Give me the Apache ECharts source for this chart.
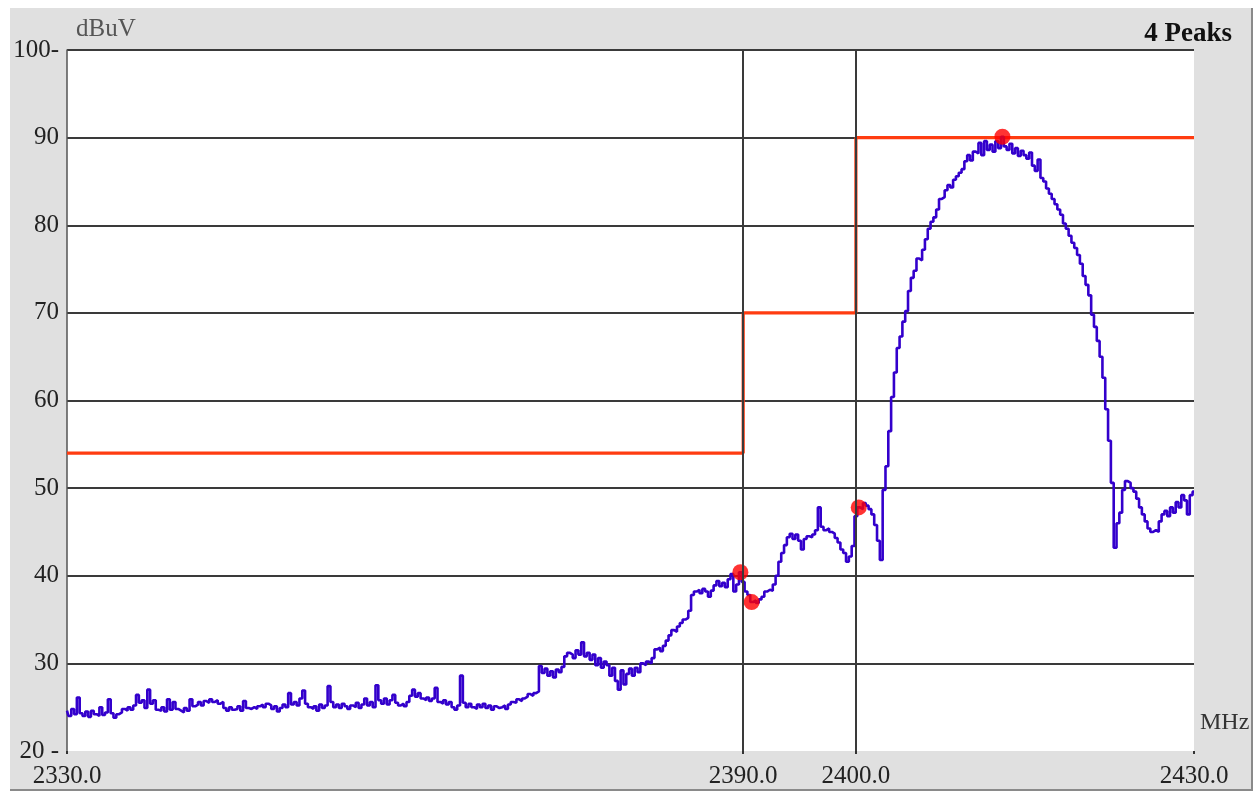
<!DOCTYPE html>
<html>
<head>
<meta charset="utf-8">
<script src="https://cdn.jsdelivr.net/npm/echarts@6/dist/echarts.min.js"></script>
<style>
  html, body { margin: 0; padding: 0; background: #ffffff; }
  #main {
    position: absolute; left: 10px; top: 8px;
    width: 1241px; height: 781px;
    background: #e0e0e0;
    border-right: 2px solid #8a8a8a;
    border-bottom: 2px solid #8a8a8a;
  }
</style>
</head>
<body>
<div id="main"></div>
<script>
// 扫描频率 (MHz)：2330 起，每 0.25 MHz 一个点
var freqStart = 2330;
var freqStep = 0.25;

// 测量电平 (dBuV)
var level = [
  24.6, 24.0, 24.8, 24.2, 26.1, 24.3, 24.0, 24.5, 23.9, 24.6,
  24.2, 24.0, 25.0, 24.1, 24.4, 25.9, 24.3, 23.8, 24.2, 24.4,
  24.8, 24.6, 25.0, 24.7, 25.2, 26.4, 25.5, 25.8, 24.9, 27.0,
  25.4, 25.8, 24.7, 24.6, 25.0, 24.5, 25.9, 24.7, 25.6, 24.8,
  24.6, 24.4, 24.9, 24.6, 25.9, 25.1, 25.3, 25.6, 25.2, 25.7,
  25.5, 25.9, 25.6, 25.8, 25.4, 25.6, 24.9, 24.6, 25.0, 24.7,
  24.8, 25.1, 24.6, 25.7, 24.9, 24.8, 25.0, 24.8, 25.1, 25.3,
  25.0, 25.4, 25.2, 24.8, 25.1, 24.5, 24.9, 25.3, 25.0, 26.6,
  25.3, 25.6, 25.2, 26.0, 26.9, 25.4, 25.0, 24.8, 25.1, 24.6,
  25.3, 24.9, 25.2, 27.4, 25.6, 25.0, 25.3, 24.9, 25.4, 25.1,
  24.8, 25.2, 25.0, 25.5, 24.9, 25.3, 26.0, 25.2, 25.6, 25.0,
  27.5, 25.8, 25.4, 26.0, 25.3, 25.8, 26.4, 25.5, 25.2, 25.4,
  25.1, 25.6, 26.3, 27.0, 26.2, 26.6, 26.0, 25.8, 26.1, 25.7,
  26.0, 27.2, 25.6, 25.4, 25.8, 25.3, 25.6, 25.0, 24.7, 25.2,
  28.6, 25.5, 25.0, 25.4, 25.0, 24.8, 25.3, 25.0, 25.4, 24.9,
  25.2, 24.7, 25.1, 24.9, 25.0, 25.2, 24.8, 25.3, 25.6, 25.5,
  25.9, 25.7, 26.0, 26.2, 26.5, 26.3, 26.6, 26.8, 29.7, 28.9,
  29.4, 28.6, 29.1, 28.4, 29.3, 29.0, 29.6, 30.8, 31.2, 31.0,
  30.6, 31.5, 31.0, 32.4, 30.8, 31.2, 30.4, 31.0, 29.8, 30.6,
  29.5, 30.2, 29.8, 28.6, 29.5, 28.0, 27.0, 29.2, 27.6, 28.8,
  29.4, 28.6, 29.5, 29.0, 30.0, 29.8, 30.2, 30.0, 30.6, 31.6,
  31.8, 31.4, 32.0, 32.6, 33.2, 33.8, 33.6, 34.2, 34.6, 35.0,
  35.2, 36.0, 37.8, 38.2, 38.4, 38.0, 38.5, 38.2, 37.6, 38.3,
  38.9, 39.4, 38.8, 39.2, 38.7, 39.6, 40.2, 38.2, 39.0, 40.4,
  39.3, 38.2, 37.8, 37.0, 37.2, 36.9, 37.3, 37.6, 38.2, 38.4,
  38.3, 39.0, 40.0, 41.6, 42.6, 43.5, 44.4, 44.8, 44.2, 44.7,
  44.0, 43.0, 44.2, 44.5, 44.4, 44.7, 45.2, 47.8, 45.6, 45.2,
  45.4, 45.0, 44.8, 44.3, 43.8, 43.0, 42.6, 41.6, 42.2, 43.4,
  46.8, 47.8, 47.6, 48.3, 48.0, 47.6, 47.0, 45.8, 44.0, 41.8,
  49.8, 52.5, 56.5, 60.4, 63.2, 66.0, 67.3, 69.0, 70.2, 72.5,
  74.0, 74.8, 76.2, 76.0, 77.2, 78.4, 79.6, 80.4, 80.9, 81.8,
  83.0, 83.2, 84.0, 84.6, 84.3, 85.2, 85.6, 86.0, 86.4, 87.3,
  88.0, 87.4, 88.4, 88.2, 89.4, 88.0, 89.6, 88.6, 89.2, 88.4,
  89.6, 88.8, 90.1, 89.0, 88.6, 89.3, 88.2, 88.8, 87.9, 88.5,
  88.0, 87.6, 88.3, 86.8, 86.2, 87.5, 85.4, 85.0, 84.2, 83.6,
  83.0, 82.4, 81.8, 81.2, 80.2, 79.6, 78.8, 78.0, 77.4, 76.6,
  75.6, 74.2, 73.2, 72.0, 69.8, 68.4, 66.8, 65.0, 62.6, 59.0,
  55.4, 50.6, 43.2, 46.0, 47.2, 49.8, 50.8, 50.6, 50.0, 49.6,
  48.8, 47.8, 47.0, 46.2, 45.4, 45.0, 45.2, 45.0, 46.2, 47.0,
  47.4, 46.8, 47.8, 47.2, 48.4, 47.8, 49.2, 48.6, 47.0, 49.2,
  49.6
];

// 限值线
var limitFreq = [2330, 2390, 2390, 2400, 2400, 2430];
var limitLevel = [54, 54, 70, 70, 90, 90];

// 4 个峰值点
var peakFreq = [2389.75, 2390.75, 2400.25, 2413.0];
var peakLevel = [40.4, 37.0, 47.8, 90.1];

// 频段边界竖线 / 横轴标签
var bandEdges = [2390, 2400];
var xLabelValues = [2330, 2390, 2400, 2430];

var font = '"Liberation Serif", "DejaVu Serif", serif';

var myChart = echarts.init(document.getElementById("main"));

var option = {
  backgroundColor: "transparent",
  animation: false,
  title: {
    text: "4 Peaks",
    right: 14,
    top: 8,
    textStyle: { fontFamily: font, fontSize: 27, fontWeight: "bold", color: "#111" }
  },
  grid: {
    left: 57,
    top: 42,
    width: 1127,
    height: 701,
    show: true,
    backgroundColor: "#ffffff",
    borderWidth: 0,
    outerBoundsMode: "none",
    containLabel: false
  },
  xAxis: {
    type: "value",
    min: 2330,
    max: 2430,
    name: "MHz",
    nameLocation: "end",
    nameGap: 6,
    nameTextStyle: {
      fontFamily: font, fontSize: 24, color: "#333",
      verticalAlign: "bottom", padding: [0, 0, 16, 0]
    },
    axisLine: { show: false },
    axisTick: {
      show: true,
      customValues: xLabelValues,
      length: 3,
      lineStyle: { color: "#333", width: 2 }
    },
    axisLabel: {
      customValues: xLabelValues,
      margin: 13,
      fontFamily: font,
      fontSize: 25,
      color: "#222",
      formatter: function (v) { return v.toFixed(1); }
    },
    splitLine: { show: false }
  },
  yAxis: {
    type: "value",
    min: 20,
    max: 100,
    interval: 10,
    name: "dBuV",
    nameLocation: "end",
    nameGap: 8,
    nameTextStyle: {
      fontFamily: font, fontSize: 25, color: "#555",
      align: "left", padding: [0, 0, 0, 9]
    },
    axisLine: { show: true, lineStyle: { color: "#555", width: 1.5 } },
    axisTick: { show: false },
    axisLabel: {
      margin: 8,
      fontFamily: font,
      fontSize: 25,
      color: "#222",
      formatter: function (v) {
        if (v === 100) return "100-";
        if (v === 20) return "20 -";
        return String(v);
      }
    },
    splitLine: {
      show: true,
      showMinLine: false,
      lineStyle: { color: "#3a3a3a", width: 2 }
    }
  },
  series: [
    {
      // 竖线
      type: "line",
      data: [],
      silent: true,
      z: 1,
      markLine: {
        silent: true,
        symbol: ["none", "none"],
        label: { show: false },
        lineStyle: { color: "#3a3a3a", width: 2, type: "solid" },
        data: bandEdges.map(function (f) { return { xAxis: f }; })
      }
    },
    {
      // 限值线
      type: "line",
      data: limitFreq.map(function (f, i) { return [f, limitLevel[i]]; }),
      showSymbol: false,
      lineStyle: { color: "#ff3c10", width: 3.2 },
      z: 2
    },
    {
      // 测量曲线
      type: "line",
      step: "middle",
      data: level.map(function (v, i) { return [freqStart + i * freqStep, v]; }),
      showSymbol: false,
      lineStyle: { color: "#3300cc", width: 2.6 },
      z: 3
    },
    {
      // 峰值点
      type: "scatter",
      data: peakFreq.map(function (f, i) { return [f, peakLevel[i]]; }),
      symbolSize: 16,
      itemStyle: { color: "#ff0000" },
      z: 4
    }
  ]
};

myChart.setOption(option);
</script>
</body>
</html>
